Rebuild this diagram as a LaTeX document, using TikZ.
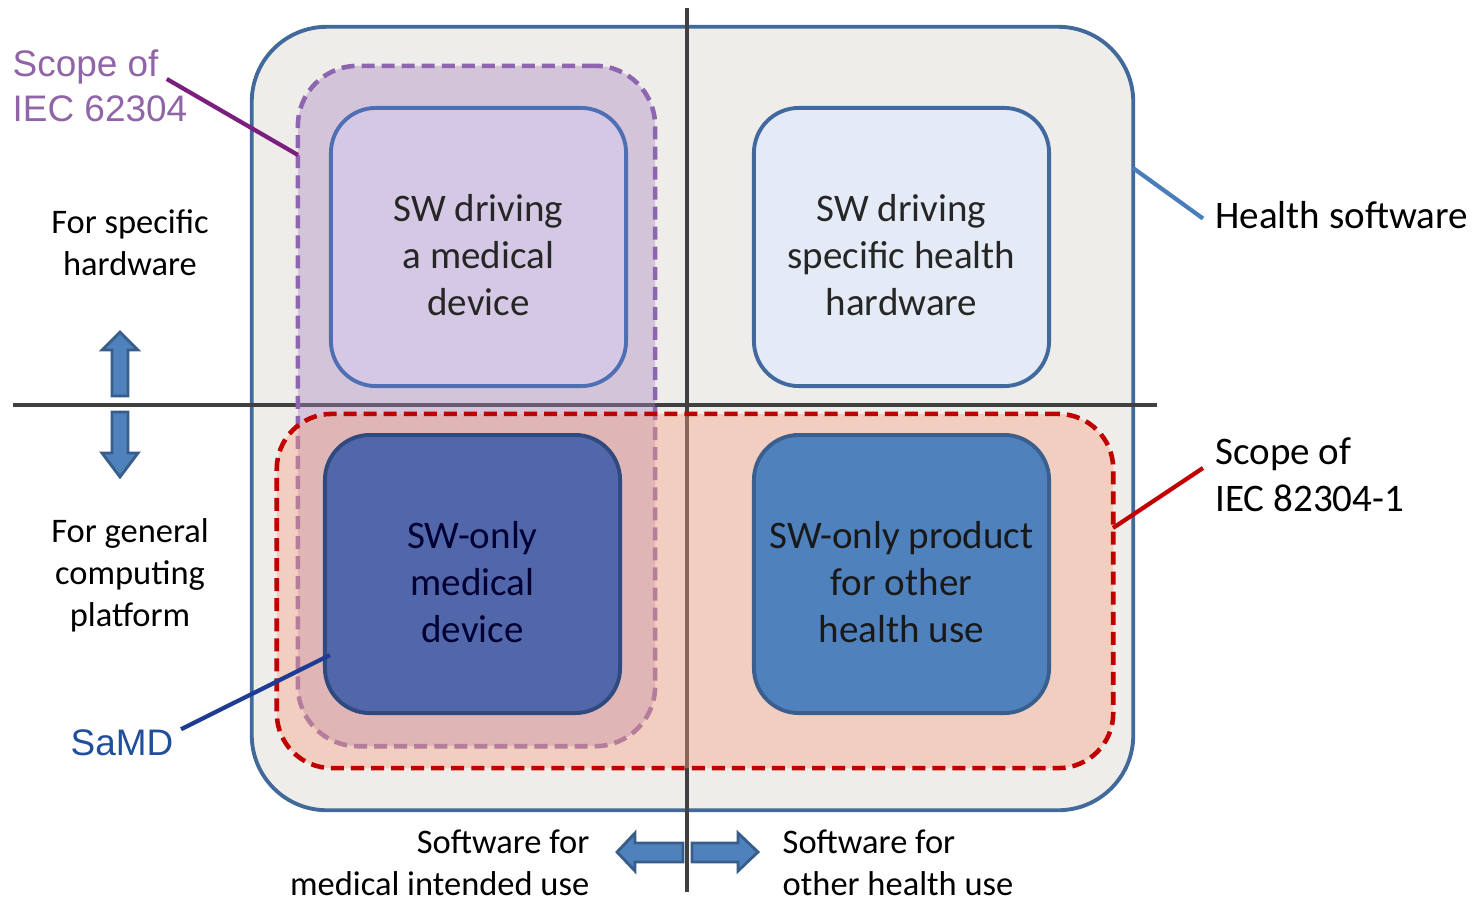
\documentclass[tikz,border=0pt]{standalone}
\usepackage{fontspec}
\setmainfont{Carlito}
\newfontfamily\arialfont{Liberation Sans}
\usetikzlibrary{positioning}

\definecolor{outerfill}{HTML}{EFEDEA}
\definecolor{outeredge}{HTML}{41699A}
\definecolor{axisgray}{HTML}{404040}
\definecolor{purplefill}{HTML}{A987C0}
\definecolor{purpleedge}{HTML}{8E65B0}
\definecolor{redfill}{HTML}{F4A080}
\definecolor{rededge}{HTML}{C00000}
\definecolor{tlfill}{HTML}{D4C8E4}
\definecolor{tledge}{HTML}{4F6FB4}
\definecolor{trfill}{HTML}{E4EBF6}
\definecolor{tredge}{HTML}{41699E}
\definecolor{blfill}{HTML}{5167AA}
\definecolor{bledge}{HTML}{2E4A7E}
\definecolor{brfill}{HTML}{4F81BD}
\definecolor{bredge}{HTML}{3A5F8E}
\definecolor{arrowblue}{HTML}{4F81BD}
\definecolor{arrowedge}{HTML}{385D8A}
\definecolor{iecpurple}{HTML}{9065A8}
\definecolor{iecline}{HTML}{7B1F7F}
\definecolor{samdblue}{HTML}{1F4E9A}
\definecolor{samdline}{HTML}{1F3C95}
\definecolor{healthline}{HTML}{4A7EBB}

\newcommand{\boxstrut}{\rule{0pt}{12.3pt}}

\tikzset{
  quadbox/.style={draw, line width=1.1pt, rounded corners=0.45cm,
    minimum width=2.95cm, minimum height=2.78cm, align=center,
    font=\fontsize{11.1}{13.4}\selectfont},
  scopebox/.style={line width=1.3pt, dash pattern=on 3.7pt off 2pt,
    rounded corners=0.55cm, fill opacity=0.4, text opacity=1},
  sidetext/.style={align=center, font=\fontsize{9.8}{12}\selectfont},
  calloutlbl/.style={font=\arialfont\fontsize{10.5}{12.8}\selectfont},
  blockarrow/.style={fill=arrowblue, draw=arrowedge, line width=0.8pt},
  axis/.style={draw=axisgray, line width=0.9pt},
  callout/.style={line width=1.2pt}
}

\begin{document}
\begin{tikzpicture}[x=0.01cm, y=-0.01cm]
  \useasboundingbox (0,0) rectangle (1473,902);

  % health software frame
  \node[draw=outeredge, fill=outerfill, line width=1.1pt, rounded corners=0.75cm,
    minimum width=8.81cm, minimum height=7.83cm] (healthsw) at (692.5,418.5) {};

  % axes
  \draw[axis] (687,8) -- (687,892);
  \draw[axis] (13,405) -- (1157,405);

  % scopes
  \node[scopebox, draw=purpleedge, fill=purplefill, rounded corners=0.6cm,
    minimum width=3.57cm, minimum height=6.8cm] (scope62304) at (476.5,406) {};
  \node[scopebox, draw=rededge, fill=redfill,
    minimum width=8.36cm, minimum height=3.54cm] (scope82304) at (695,591) {};

  % quadrants
  \node[quadbox, draw=tledge, fill=tlfill, text=black!85] (drivemed) at (478.5,247)
    {\boxstrut SW driving\\a medical\\device};
  \node[quadbox, draw=tredge, fill=trfill, text=black!85] (drivehealth) at (901.5,247)
    {\boxstrut SW driving\\specific health\\hardware};
  \node[quadbox, draw=bledge, fill=blfill, text=black!80!blue] (swonlymed) at (472.5,574)
    {\boxstrut SW-only\\medical\\device};
  \node[quadbox, draw=bredge, fill=brfill, text=black!90] (swonlyhealth) at (901.5,574)
    {\boxstrut SW-only product\\for other\\health use};

  % side labels
  \node[sidetext] (specifichw) at (130,243) {For specific\\hardware};
  \node[sidetext] (generalhw) at (130,575) {For general\\computing\\platform};
  \node[sidetext, align=right, anchor=east, inner sep=0pt] (medicaluse) at (590,863)
    {Software for\\medical intended use};
  \node[sidetext, align=left, anchor=west, inner sep=0pt] (otheruse) at (782,863)
    {Software for\\other health use};

  % block arrows
  \draw[blockarrow] (112,396) -- (112,350) -- (102,350) -- (120,332) -- (138,350)
    -- (128,350) -- (128,396) -- cycle;
  \draw[blockarrow] (112,412) -- (112,453) -- (102,453) -- (120,477) -- (138,453)
    -- (128,453) -- (128,412) -- cycle;
  \draw[blockarrow] (683,843) -- (635,843) -- (635,833) -- (617,852) -- (635,871)
    -- (635,862) -- (683,862) -- cycle;
  \draw[blockarrow] (692,843) -- (738,843) -- (738,833) -- (758,852) -- (738,871)
    -- (738,862) -- (692,862) -- cycle;

  % callouts
  \node[calloutlbl, text=iecpurple, align=left, anchor=west, inner sep=0pt]
    (lbl62304) at (12,86) {Scope of\\IEC 62304};
  \node[calloutlbl, text=samdblue, anchor=west, inner sep=0pt] (lblsamd) at (70,743) {SaMD};
  \node[font=\fontsize{11.1}{13.4}\selectfont, anchor=west] (lblhealth) at (1203,215)
    {Health software};
  \node[font=\fontsize{11.1}{13.4}\selectfont, align=left, anchor=west] (lbl82304)
    at (1203,475) {Scope of\\IEC 82304-1};

  \coordinate (tip62304) at (298,155);
  \coordinate (tipsamd) at (330,655);
  \coordinate (tiphealth) at (1133,168);
  \coordinate (tip82304) at (1113,528);

  \draw[callout, iecline] ([xshift=-6pt,yshift=2pt]lbl62304.east) -- (tip62304);
  \draw[callout, samdline] ([xshift=2pt]lblsamd.north east) -- (tipsamd);
  \draw[callout, healthline] (tiphealth) -- ([yshift=-1pt]lblhealth.west);
  \draw[callout, rededge] (tip82304) -- ([yshift=2pt]lbl82304.west);
\end{tikzpicture}
\end{document}
